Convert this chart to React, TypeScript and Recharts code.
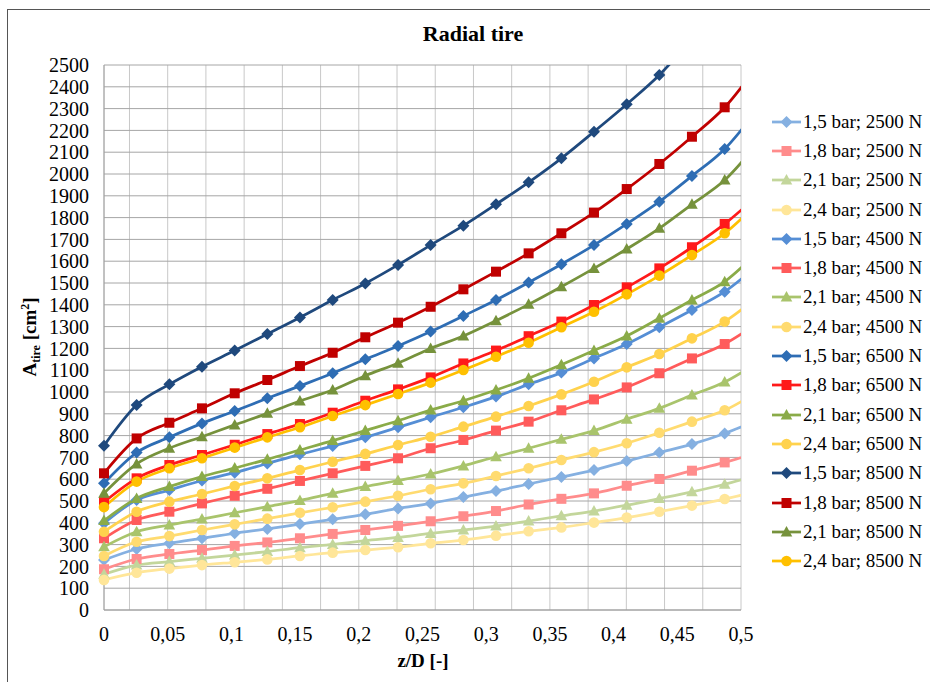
import React from 'react';
import { LineChart, Line, XAxis, YAxis, CartesianGrid, Legend, Label } from 'recharts';

const FONT = '"Liberation Serif", "Times New Roman", serif';

// z/D positions of the measured points (last one lies just past the axis end)
const zD = [0, 0.0256, 0.0513, 0.0769, 0.1026, 0.1282, 0.1538, 0.1795, 0.2051, 0.2308, 0.2564,
  0.2821, 0.3077, 0.3333, 0.359, 0.3846, 0.4103, 0.4359, 0.4615, 0.4872, 0.5128];

// A_tire [cm2]
const p15_2500 = [229, 280, 306, 329, 352, 372, 394, 416, 439, 466, 489, 518, 546, 578, 610, 642, 683, 722, 761, 810, 870];
const p18_2500 = [187, 234, 257, 275, 294, 310, 329, 349, 367, 386, 407, 430, 454, 484, 510, 535, 570, 601, 639, 677, 722];
const p21_2500 = [164, 206, 222, 237, 252, 268, 286, 301, 318, 333, 351, 367, 385, 408, 432, 454, 481, 511, 542, 577, 618];
const p24_2500 = [138, 171, 190, 206, 219, 232, 248, 263, 275, 288, 306, 321, 341, 361, 379, 401, 424, 451, 479, 509, 545];
const p15_4500 = [398, 505, 550, 594, 630, 672, 714, 752, 792, 838, 884, 930, 979, 1035, 1089, 1154, 1220, 1297, 1376, 1460, 1580];
const p18_4500 = [329, 413, 451, 489, 524, 556, 592, 627, 661, 696, 742, 780, 823, 864, 916, 966, 1021, 1086, 1154, 1220, 1315];
const p21_4500 = [290, 359, 390, 417, 446, 474, 502, 535, 566, 594, 624, 661, 703, 742, 783, 823, 875, 925, 986, 1046, 1135];
const p24_4500 = [248, 313, 339, 367, 393, 419, 446, 471, 497, 524, 554, 581, 615, 650, 688, 724, 765, 813, 864, 916, 1000];
const p15_6500 = [581, 722, 792, 856, 913, 971, 1028, 1086, 1150, 1211, 1277, 1349, 1422, 1502, 1586, 1674, 1771, 1873, 1991, 2115, 2295];
const p18_6500 = [495, 604, 665, 711, 758, 807, 853, 905, 960, 1012, 1067, 1131, 1190, 1256, 1323, 1399, 1480, 1567, 1664, 1771, 1900];
const p21_6500 = [410, 512, 566, 612, 651, 691, 734, 777, 823, 868, 917, 960, 1009, 1063, 1125, 1190, 1257, 1338, 1422, 1506, 1640];
const p24_6500 = [359, 451, 497, 532, 569, 604, 642, 680, 716, 757, 795, 841, 887, 936, 989, 1047, 1113, 1174, 1246, 1323, 1435];
const p15_8500 = [754, 940, 1035, 1116, 1190, 1266, 1342, 1422, 1498, 1583, 1674, 1763, 1861, 1962, 2072, 2194, 2320, 2454, 2620, 2790, 2960];
const p18_8500 = [627, 787, 859, 925, 994, 1055, 1119, 1180, 1251, 1318, 1391, 1471, 1552, 1636, 1728, 1823, 1931, 2046, 2171, 2306, 2495];
const p21_8500 = [535, 670, 742, 795, 849, 902, 959, 1009, 1075, 1132, 1200, 1257, 1327, 1402, 1483, 1567, 1656, 1751, 1861, 1972, 2140];
const p24_8500 = [472, 589, 650, 696, 745, 792, 838, 890, 940, 991, 1043, 1101, 1162, 1226, 1297, 1368, 1448, 1534, 1628, 1728, 1865];

const xTicks = [0, 0.05, 0.1, 0.15, 0.2, 0.25, 0.3, 0.35, 0.4, 0.45, 0.5];
const xGrid = [0, 0.01, 0.02, 0.03, 0.04, 0.05, 0.06, 0.07, 0.08, 0.09, 0.1, 0.11, 0.12, 0.13, 0.14, 0.15,
  0.16, 0.17, 0.18, 0.19, 0.2, 0.21, 0.22, 0.23, 0.24, 0.25, 0.26, 0.27, 0.28, 0.29, 0.3, 0.31, 0.32, 0.33,
  0.34, 0.35, 0.36, 0.37, 0.38, 0.39, 0.4, 0.41, 0.42, 0.43, 0.44, 0.45, 0.46, 0.47, 0.48, 0.49, 0.5];
const yTicks = [0, 100, 200, 300, 400, 500, 600, 700, 800, 900, 1000, 1100, 1200, 1300, 1400, 1500, 1600,
  1700, 1800, 1900, 2000, 2100, 2200, 2300, 2400, 2500];

type Shape = 'diamond' | 'square' | 'triangle' | 'circle';

const series: { key: string; name: string; color: string; shape: Shape; values: number[] }[] = [
  { key: 's1', name: '1,5 bar; 2500 N', color: '#85b0e1', shape: 'diamond', values: p15_2500 },
  { key: 's2', name: '1,8 bar; 2500 N', color: '#ff8c8c', shape: 'square', values: p18_2500 },
  { key: 's3', name: '2,1 bar; 2500 N', color: '#c3d69b', shape: 'triangle', values: p21_2500 },
  { key: 's4', name: '2,4 bar; 2500 N', color: '#ffe699', shape: 'circle', values: p24_2500 },
  { key: 's5', name: '1,5 bar; 4500 N', color: '#558ed5', shape: 'diamond', values: p15_4500 },
  { key: 's6', name: '1,8 bar; 4500 N', color: '#ff5b5b', shape: 'square', values: p18_4500 },
  { key: 's7', name: '2,1 bar; 4500 N', color: '#a9c46c', shape: 'triangle', values: p21_4500 },
  { key: 's8', name: '2,4 bar; 4500 N', color: '#ffdb70', shape: 'circle', values: p24_4500 },
  { key: 's9', name: '1,5 bar; 6500 N', color: '#2e6db4', shape: 'diamond', values: p15_6500 },
  { key: 's10', name: '1,8 bar; 6500 N', color: '#ff1a1a', shape: 'square', values: p18_6500 },
  { key: 's11', name: '2,1 bar; 6500 N', color: '#8aab48', shape: 'triangle', values: p21_6500 },
  { key: 's12', name: '2,4 bar; 6500 N', color: '#ffd24d', shape: 'circle', values: p24_6500 },
  { key: 's13', name: '1,5 bar; 8500 N', color: '#1f497d', shape: 'diamond', values: p15_8500 },
  { key: 's14', name: '1,8 bar; 8500 N', color: '#c00000', shape: 'square', values: p18_8500 },
  { key: 's15', name: '2,1 bar; 8500 N', color: '#76923c', shape: 'triangle', values: p21_8500 },
  { key: 's16', name: '2,4 bar; 8500 N', color: '#ffc000', shape: 'circle', values: p24_8500 },
];

const rows = zD.map((x, i) => {
  const r: Record<string, number> = { x };
  series.forEach((s) => { r[s.key] = s.values[i]; });
  return r;
});

// markers only for points inside the plot (Excel hides the rest)
const markerRows = series.map((s) =>
  zD.map((x, i) => ({ x, v: s.values[i] })).filter((p) => p.x <= 0.5 && p.v <= 2500)
);

const MarkerShape = ({ cx, cy, shape, color }: { cx: number; cy: number; shape: Shape; color: string }) => {
  if (shape === 'diamond') {
    return <polygon points={`${cx},${cy - 6} ${cx + 6},${cy} ${cx},${cy + 6} ${cx - 6},${cy}`} fill={color} />;
  }
  if (shape === 'square') {
    return <rect x={cx - 5} y={cy - 5} width={10} height={10} fill={color} />;
  }
  if (shape === 'triangle') {
    return <polygon points={`${cx},${cy - 6} ${cx + 5.8},${cy + 4.5} ${cx - 5.8},${cy + 4.5}`} fill={color} />;
  }
  return <circle cx={cx} cy={cy} r={5.3} fill={color} />;
};

const makeDot = (shape: Shape, color: string) => (props: any) => {
  const { cx, cy, index } = props;
  if (cx == null || cy == null) return <g key={`n${index}`} />;
  return <MarkerShape key={`d${index}`} cx={cx} cy={cy} shape={shape} color={color} />;
};

const renderLegend = () => (
  <div style={{ fontFamily: FONT, fontSize: 19, color: '#000' }}>
    {series.map((s) => (
      <div key={s.key} style={{ display: 'flex', alignItems: 'center', height: 29.3 }}>
        <svg width={62} height={16} style={{ flex: 'none' }}>
          <line x1={31} y1={8} x2={60} y2={8} stroke={s.color} strokeWidth={2.75} />
          <MarkerShape cx={45.5} cy={8} shape={s.shape} color={s.color} />
        </svg>
        <span style={{ whiteSpace: 'nowrap' }}>{s.name}</span>
      </div>
    ))}
  </div>
);

const renderYLabel = () => (
  <text x={36} y={337} transform="rotate(-90 36 337)" textAnchor="middle" fontFamily={FONT} fontSize={19} fontWeight="bold" fill="#000">
    A<tspan fontSize={12} dy={4}>tire</tspan>
    <tspan dy={-4}> [cm</tspan>
    <tspan fontSize={12} dy={-7}>2</tspan>
    <tspan dy={7}>]</tspan>
  </text>
);

const renderXLabel = () => (
  <text x={423} y={667} textAnchor="middle" fontFamily={FONT} fontSize={19} fontWeight="bold" fill="#000">
    z/D [-]
  </text>
);

const RadialTireChart = () => {
  return (
    <div style={{ position: 'absolute', left: 0, top: 0, width: 930, height: 682, overflow: 'hidden', background: '#fff' }}>
      <div style={{ position: 'absolute', left: 7, top: 9, width: 1000, height: 1000, borderLeft: '1px solid #555', borderTop: '1px solid #555' }} />
      <div style={{ position: 'absolute', left: 0, top: 20, width: 946, height: 28, lineHeight: '28px', textAlign: 'center', fontFamily: FONT, fontSize: 22, fontWeight: 'bold' }}>
        Radial tire
      </div>
      <div style={{ position: 'absolute', left: 0, top: 0 }}>
        <LineChart width={930} height={682} data={rows} margin={{ top: 65, right: 0, bottom: 0, left: 0 }}>
          <CartesianGrid horizontal={false} xAxisId="m" yAxisId="m" stroke="#c8c8c8" />
          <CartesianGrid vertical={false} stroke="#a6a6a6" />
          <XAxis
            type="number"
            dataKey="x"
            domain={[0, 0.5]}
            ticks={xTicks}
            allowDataOverflow
            height={72}
            tickSize={0}
            tickMargin={17}
            axisLine={{ stroke: '#a0a0a0' }}
            tick={{ fontFamily: FONT, fontSize: 20, fill: '#000' }}
            tickFormatter={(v: number) => String(v).replace('.', ',')}
          >
            <Label content={renderXLabel} />
          </XAxis>
          <YAxis
            domain={[0, 2500]}
            ticks={yTicks}
            allowDataOverflow
            width={104}
            tickSize={0}
            tickMargin={15}
            interval={0}
            axisLine={{ stroke: '#a0a0a0' }}
            tick={{ fontFamily: FONT, fontSize: 20, fill: '#000' }}
          >
            <Label content={renderYLabel} />
          </YAxis>
          <XAxis xAxisId="m" type="number" dataKey="x" domain={[0, 0.5]} ticks={xGrid} hide />
          <YAxis yAxisId="m" domain={[0, 2500]} ticks={yTicks} hide />
          <Legend
            layout="vertical"
            align="right"
            verticalAlign="top"
            width={189}
            content={renderLegend}
            wrapperStyle={{ top: 107, left: 741 }}
          />
          {series.map((s) => (
            <Line
              key={s.key}
              type="monotone"
              dataKey={s.key}
              name={s.name}
              stroke={s.color}
              strokeWidth={2.75}
              dot={false}
              activeDot={false}
              isAnimationActive={false}
            />
          ))}
          {series.map((s, i) => (
            <Line
              key={'m' + s.key}
              xAxisId="m"
              yAxisId="m"
              data={markerRows[i]}
              dataKey="v"
              stroke="none"
              dot={makeDot(s.shape, s.color)}
              activeDot={false}
              legendType="none"
              isAnimationActive={false}
            />
          ))}
        </LineChart>
      </div>
    </div>
  );
};

export default RadialTireChart;
